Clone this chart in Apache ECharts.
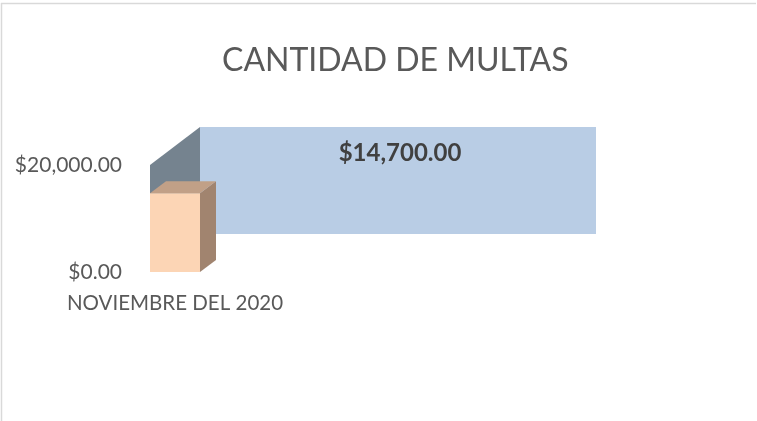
<!DOCTYPE html>
<html>
<head>
<meta charset="utf-8">
<script src="https://cdn.jsdelivr.net/npm/echarts@6/dist/echarts.min.js"></script>
<style>
html,body{margin:0;padding:0;background:#fff;}
#chart{width:757px;height:421px;}
</style>
</head>
<body>
<div id="chart"></div>
<script>
const categories = ['NOVIEMBRE DEL 2020'];
const values = [14700];
const yMin = 0;
const yMax = 20000;
const titleText = 'CANTIDAD DE MULTAS';

const FONT = 'Lato';
const fmt = v => '$' + v.toLocaleString('en-US', {minimumFractionDigits: 2, maximumFractionDigits: 2});

const chart = echarts.init(document.getElementById('chart'), null, {renderer: 'canvas'});

const WALL_DX = 50, WALL_DY = -38, WALL_W = 396;
const BAR_DX = 16, BAR_DY = -12;

function renderItem(params, api) {
  const xi = api.value(0);
  const v = api.value(1);
  const base = api.coord([xi, yMin]);
  const top = api.coord([xi, v]);
  const ceil = api.coord([xi, yMax]);
  const bw = api.size([1, 0])[0];
  const x0 = base[0] - bw / 2, x1 = base[0] + bw / 2;
  const wl = x0 + WALL_DX, wr = wl + WALL_W;
  const wt = ceil[1] + WALL_DY, wb = base[1] + WALL_DY;
  return {
    type: 'group',
    children: [
      {type: 'rect', shape: {x: wl, y: wt, width: wr - wl, height: wb - wt},
       style: {fill: '#B9CDE5'}},
      {type: 'polygon', shape: {points: [[x0, ceil[1]], [wl, wt], [wl, wb], [x0, base[1]]]},
       style: {fill: '#75838F'}},
      {type: 'polygon', shape: {points: [[x1, top[1]], [x1 + BAR_DX, top[1] + BAR_DY], [x1 + BAR_DX, base[1] + BAR_DY], [x1, base[1]]]},
       style: {fill: '#A1846F'}},
      {type: 'polygon', shape: {points: [[x0, top[1]], [x0 + BAR_DX, top[1] + BAR_DY], [x1 + BAR_DX, top[1] + BAR_DY], [x1, top[1]]]},
       style: {fill: '#C1A087'}},
      {type: 'rect', shape: {x: x0, y: top[1], width: x1 - x0, height: base[1] - top[1]},
       style: {fill: '#FCD5B5'}},
      {type: 'text', style: {x: (wl + wr) / 2 + 2, y: wt + 26, text: fmt(v),
        fill: '#404040', font: 'bold 24px ' + FONT, align: 'center', verticalAlign: 'middle'}}
    ]
  };
}

chart.setOption({
  animation: false,
  backgroundColor: '#fff',
  title: {
    text: titleText, left: 217, top: 40,
    textStyle: {fontFamily: FONT, fontSize: 32, fontWeight: 'normal', color: '#595959'}
  },
  grid: {left: 150, width: 50, top: 165, bottom: 149, containLabel: false},
  xAxis: {
    type: 'category', data: categories, boundaryGap: true,
    axisLine: {show: false}, axisTick: {show: false},
    axisLabel: {margin: 21, color: '#595959', fontFamily: FONT, fontSize: 20.5}
  },
  yAxis: {
    type: 'value', min: yMin, max: yMax, interval: yMax - yMin,
    axisLine: {show: false}, axisTick: {show: false}, splitLine: {show: false},
    axisLabel: {margin: 28, color: '#595959', fontFamily: FONT, fontSize: 21, formatter: fmt}
  },
  series: [{
    type: 'custom', renderItem: renderItem, clip: false,
    data: values.map((v, i) => [i, v])
  }],
  graphic: [
    {type: 'line', shape: {x1: 1, y1: 3.5, x2: 756, y2: 3.5}, style: {stroke: '#D9D9D9', lineWidth: 1.5}},
    {type: 'line', shape: {x1: 1.5, y1: 3, x2: 1.5, y2: 421}, style: {stroke: '#D9D9D9', lineWidth: 1.5}}
  ]
});
</script>
</body>
</html>
